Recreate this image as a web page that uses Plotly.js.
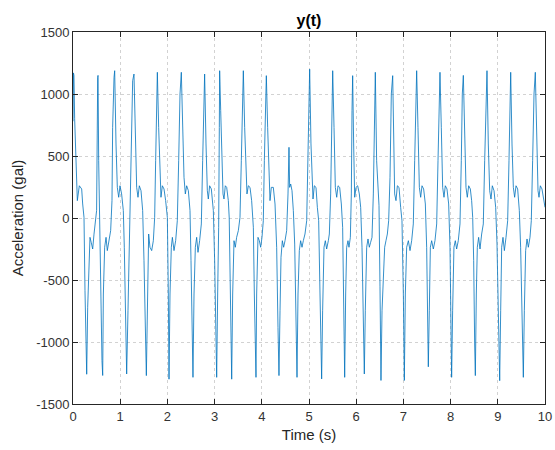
<!DOCTYPE html>
<html>
<head>
<meta charset="utf-8">
<script src="https://cdn.plot.ly/plotly-3.0.1.min.js"></script>
<style>html,body{margin:0;padding:0;background:#fff;}#chart{width:555px;height:450px;}</style>
</head>
<body>
<div id="chart"></div>
<script>
// Time samples (s)
const time = [
0.000,0.010,0.020,0.035,0.064,0.092,0.134,0.184,0.205,0.233,0.254,0.290,0.311,0.339,0.360,0.388,0.417,0.445,0.473,0.500,0.523,0.530,
0.544,0.558,0.572,0.586,0.614,0.629,0.643,0.671,0.700,0.727,0.763,0.798,0.826,0.840,0.869,0.883,
0.911,0.939,0.968,0.996,1.030,1.066,1.087,1.116,1.137,1.165,1.193,1.222,1.243,1.264,1.292,
1.321,1.349,1.377,1.405,1.441,1.476,1.504,1.532,1.554,1.582,1.603,1.631,1.667,1.702,1.730,1.751,1.773,1.787,
1.815,1.843,1.864,1.893,1.928,1.963,1.999,2.020,2.034,2.055,2.083,2.105,2.140,2.175,2.210,2.239,2.267,2.295,
2.324,2.352,2.380,2.408,2.444,2.479,2.500,2.521,2.542,2.564,2.592,2.620,2.648,2.683,2.719,2.747,2.768,2.789,
2.818,2.846,2.867,2.895,2.931,2.973,3.001,3.023,3.044,3.065,3.086,3.100,3.107,
3.129,3.157,3.178,3.199,3.227,3.256,3.291,3.310,3.335,3.362,3.383,3.411,3.439,3.467,3.503,3.538,3.566,3.595,3.609,
3.637,3.665,3.686,3.715,3.750,3.785,3.821,3.842,3.863,3.877,3.891,3.919,3.948,3.976,4.004,4.032,4.054,4.075,4.096,
4.124,4.153,4.174,4.202,4.244,4.280,4.315,4.343,4.364,4.386,4.407,4.435,4.463,4.492,4.527,4.555,4.576,4.590,4.612,4.640,4.668,4.697,4.725,4.746,
4.767,4.795,4.823,4.852,4.880,4.915,4.951,4.979,5.000,5.014,
5.042,5.064,5.085,5.113,5.148,5.177,5.205,5.233,5.254,5.268,5.289,5.318,5.346,5.374,5.410,5.431,5.459,5.480,5.502,
5.530,5.558,5.587,5.615,5.650,5.685,5.713,5.735,5.756,5.777,5.798,5.826,5.847,5.876,5.897,5.911,5.925,
5.946,5.968,5.996,6.031,6.066,6.095,6.123,6.151,6.172,6.193,6.222,6.250,6.278,6.306,6.335,6.363,6.384,6.405,
6.433,6.462,6.483,6.504,6.525,6.547,6.575,6.603,6.631,6.660,6.688,6.716,6.744,6.773,
6.815,6.843,6.872,6.907,6.942,6.970,6.999,7.020,7.041,7.069,7.105,7.140,7.175,7.210,7.239,7.260,7.281,
7.309,7.338,7.366,7.394,7.429,7.465,7.493,7.514,7.528,7.549,7.571,7.599,7.634,7.669,7.705,7.733,7.754,7.775,
7.803,7.832,7.860,7.888,7.923,7.959,7.987,8.008,8.022,8.043,8.071,8.100,8.128,8.163,8.199,8.227,8.248,8.270,
8.298,8.326,8.354,8.383,8.418,8.446,8.468,8.489,8.510,8.524,8.545,8.566,8.594,8.623,8.658,8.693,8.722,8.750,8.771,
8.799,8.828,8.856,8.884,8.920,8.955,8.983,9.011,9.040,9.061,9.082,9.110,9.139,9.174,9.209,9.237,9.258,9.273,
9.301,9.329,9.357,9.386,9.421,9.456,9.484,9.513,9.541,9.562,9.590,9.619,9.647,9.682,9.710,9.738,9.767,9.795,
9.823,9.852,9.873,9.901,9.936,9.972,10.000
];
// Acceleration (gal)
const accel = [
780,1170,1150,800,382,140,260,234,113,5,-586,-1260,-720,-452,-156,-200,-250,-130,-48,60,1134,1150,
462,86,5,-344,-1150,-1270,-613,-236,-156,-263,-183,-102,140,731,1134,1188,
597,247,167,260,194,60,-236,-882,-1258,-748,-210,194,731,1107,1161,
731,247,167,260,220,60,-344,-1016,-1271,-613,-129,-236,-263,-183,5,462,1107,1175,
731,328,167,260,234,140,5,-613,-1300,-613,-236,-156,-263,-183,-22,462,1000,1175,
597,328,194,260,220,60,-344,-1016,-1285,-613,-236,-156,-277,-183,-48,462,1000,1161,
597,220,153,260,234,60,-344,-1016,-1285,-613,-75,731,1188,
866,462,194,153,260,247,140,0,-700,-1300,-613,-183,-236,-156,-102,5,462,1000,1188,
731,328,194,260,247,140,-75,-613,-1205,-1285,-613,-156,-183,-236,-156,-22,462,1000,1148,
731,328,140,247,247,113,-236,-882,-1271,-748,-317,-183,-236,-183,-102,194,570,247,274,220,60,-210,-748,-1285,
-613,-263,-183,-236,-183,-129,-22,462,1000,1200,
597,247,153,260,247,86,-22,-613,-1150,-1298,-748,-236,-183,-250,-183,-129,194,731,1188,
731,247,167,260,247,113,-75,-613,-1285,-613,-236,-183,-236,-156,194,866,1148,
597,167,247,260,194,86,-236,-882,-1258,-748,-236,-169,-236,-196,-156,194,866,1175,
462,247,100,-550,-1310,-748,-400,-236,-183,-129,-22,328,1000,1148,
194,140,260,247,86,-22,-613,-1310,-613,-236,-183,-263,-183,-48,462,1000,1188,
731,247,167,260,234,113,-236,-882,-1200,-748,-236,-183,-250,-183,-48,462,1000,1175,
731,247,167,260,234,113,-236,-882,-1285,-748,-236,-183,-250,-183,-48,462,1000,1150,
731,247,167,260,234,140,5,-344,-1016,-1271,-613,-236,-156,-250,-129,-48,462,1000,1188,
597,220,153,260,220,86,-210,-748,-1312,-748,-236,-156,-263,-156,-22,462,1000,1175,
597,247,167,260,234,60,-236,-882,-1285,-748,-263,-169,-236,-156,-22,462,1000,1175,
597,220,167,260,234,140,86
];
const xTickVals = [0,1,2,3,4,5,6,7,8,9,10];
const xTickText = ['0','1','2','3','4','5','6','7','8','9','10'];
const yTickVals = [-1500,-1000,-500,0,500,1000,1500];
const yTickText = ['-1500','-1000','-500','0','500','1000','1500'];

const FONT = 'Liberation Sans, Arial, Helvetica, sans-serif';
const INK = '#262626';

const axisCommon = {
  showline: true, mirror: 'ticks', linecolor: INK, linewidth: 1,
  ticks: 'inside', ticklen: 5, tickwidth: 1, tickcolor: INK,
  showgrid: true, gridcolor: '#d2d2d2', griddash: 'dot', gridwidth: 1,
  zeroline: false, tickfont: {family: FONT, size: 13, color: '#333333'},
  tickmode: 'array', fixedrange: true
};

const data = [{
  x: time, y: accel, type: 'scatter', mode: 'lines',
  line: {color: '#0072BD', width: 0.8}, hoverinfo: 'none'
}];

const layout = {
  width: 555, height: 450,
  margin: {l: 73, r: 10, t: 32, b: 46, pad: 0},
  paper_bgcolor: '#ffffff', plot_bgcolor: '#ffffff',
  showlegend: false,
  font: {family: FONT, color: INK},
  title: {text: '<b>y(t)</b>', font: {family: FONT, size: 16, color: '#000'},
          x: 0.5, xref: 'paper', y: 1 - 20/450, yref: 'container', yanchor: 'middle'},
  xaxis: Object.assign({}, axisCommon, {
    range: [0, 10], tickvals: xTickVals, ticktext: xTickText,
    title: {text: 'Time (s)', font: {family: FONT, size: 15, color: INK}, standoff: 6}
  }),
  yaxis: Object.assign({}, axisCommon, {
    range: [-1500, 1500], tickvals: yTickVals, ticktext: yTickText,
    title: {text: 'Acceleration (gal)', font: {family: FONT, size: 15, color: INK}, standoff: 8}
  })
};

Plotly.newPlot('chart', data, layout, {staticPlot: true, displayModeBar: false});
</script>
</body>
</html>
